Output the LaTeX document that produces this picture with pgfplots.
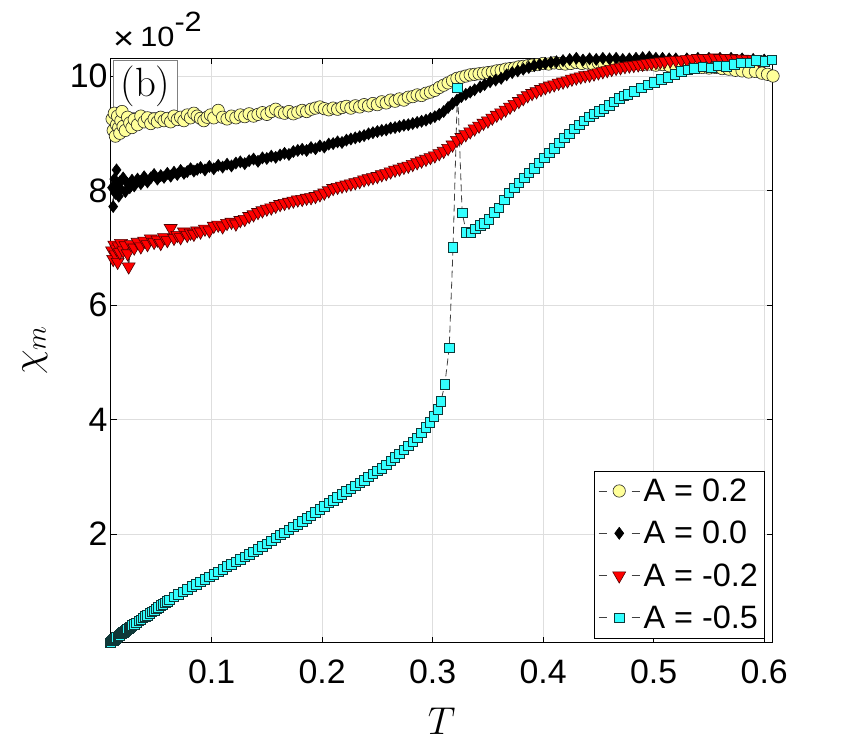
\RequirePackage{fix-cm}
\documentclass[border=0pt]{standalone}
\usepackage{fontspec}
\usepackage{graphicx}
\usepackage{pgfplots}
\pgfplotsset{compat=1.18}
\newfontfamily\hv{Liberation Sans}
\definecolor{cyanf}{rgb}{0.2,1,1}
\definecolor{yelf}{rgb}{1,1,0.6}
\definecolor{cyane}{rgb}{0.06,0.22,0.22}
\definecolor{gridc}{rgb}{0.87,0.87,0.87}
\pgfplotstableread{
x y
0.010 9.25
0.011 9.05
0.012 9.35
0.013 8.95
0.014 9.15
0.015 9.30
0.016 9.10
0.017 9.00
0.018 9.22
0.019 9.38
0.020 9.12
0.022 9.05
0.024 9.28
0.026 9.18
0.028 9.10
0.030 9.24
0.033 9.15
0.036 9.30
0.039 9.20
0.042 9.27
0.045 9.17
0.048 9.25
0.051 9.20
0.054 9.28
0.057 9.22
0.060 9.26
0.063 9.20
0.066 9.30
0.069 9.24
0.072 9.28
0.075 9.22
0.078 9.32
0.081 9.27
0.084 9.35
0.087 9.30
0.090 9.26
0.093 9.22
0.096 9.28
0.099 9.32
0.102 9.27
0.106 9.40
0.110 9.28
0.114 9.25
0.118 9.30
0.122 9.27
0.126 9.32
0.130 9.29
0.134 9.34
0.138 9.30
0.142 9.33
0.146 9.36
0.150 9.33
0.154 9.38
0.158 9.42
0.162 9.37
0.166 9.35
0.170 9.38
0.174 9.34
0.178 9.37
0.182 9.40
0.186 9.38
0.190 9.42
0.194 9.44
0.198 9.46
0.202 9.43
0.206 9.41
0.210 9.44
0.214 9.42
0.218 9.45
0.222 9.47
0.226 9.44
0.230 9.48
0.234 9.46
0.238 9.50
0.242 9.48
0.246 9.52
0.250 9.50
0.254 9.55
0.258 9.53
0.262 9.58
0.266 9.56
0.270 9.60
0.274 9.58
0.278 9.63
0.282 9.64
0.286 9.67
0.290 9.66
0.294 9.70
0.298 9.72
0.302 9.75
0.306 9.80
0.310 9.84
0.314 9.88
0.318 9.92
0.322 9.96
0.326 9.98
0.330 10.00
0.334 10.02
0.338 10.03
0.342 10.04
0.346 10.05
0.350 10.06
0.354 10.07
0.358 10.09
0.362 10.10
0.366 10.12
0.370 10.13
0.374 10.14
0.378 10.16
0.382 10.17
0.386 10.18
0.390 10.19
0.395 10.20
0.400 10.22
0.405 10.21
0.410 10.23
0.415 10.22
0.420 10.21
0.425 10.22
0.430 10.24
0.435 10.22
0.440 10.23
0.445 10.21
0.450 10.23
0.455 10.22
0.460 10.24
0.466 10.22
0.472 10.23
0.478 10.21
0.484 10.22
0.490 10.20
0.496 10.21
0.502 10.19
0.508 10.20
0.514 10.18
0.520 10.17
0.526 10.18
0.532 10.16
0.538 10.17
0.544 10.15
0.550 10.14
0.556 10.15
0.562 10.13
0.568 10.12
0.574 10.10
0.580 10.09
0.586 10.07
0.592 10.08
0.598 10.05
0.603 10.03
0.608 10.00
}\dataY
\pgfplotstableread{
x y
0.010 8.05
0.011 7.72
0.012 8.20
0.013 7.95
0.014 8.36
0.015 8.10
0.016 7.90
0.017 8.15
0.018 8.02
0.020 8.22
0.022 7.98
0.024 8.12
0.026 8.05
0.028 8.18
0.030 8.08
0.033 8.20
0.036 8.12
0.039 8.24
0.042 8.15
0.045 8.22
0.048 8.28
0.051 8.20
0.054 8.26
0.057 8.23
0.060 8.30
0.063 8.25
0.066 8.32
0.069 8.28
0.072 8.35
0.075 8.30
0.078 8.33
0.081 8.38
0.084 8.34
0.087 8.37
0.090 8.40
0.094 8.36
0.098 8.42
0.102 8.38
0.106 8.44
0.110 8.41
0.114 8.46
0.118 8.43
0.122 8.48
0.126 8.50
0.130 8.47
0.134 8.52
0.138 8.55
0.142 8.51
0.146 8.57
0.150 8.56
0.154 8.60
0.158 8.58
0.162 8.62
0.166 8.65
0.170 8.63
0.174 8.68
0.178 8.70
0.182 8.72
0.186 8.70
0.190 8.75
0.194 8.73
0.198 8.78
0.202 8.76
0.206 8.81
0.210 8.82
0.214 8.85
0.218 8.84
0.222 8.88
0.226 8.90
0.230 8.92
0.234 8.94
0.238 8.96
0.242 8.99
0.246 9.01
0.250 9.03
0.254 9.05
0.258 9.06
0.262 9.09
0.266 9.10
0.270 9.12
0.274 9.14
0.278 9.15
0.282 9.17
0.286 9.19
0.290 9.21
0.294 9.23
0.298 9.26
0.302 9.29
0.306 9.33
0.310 9.38
0.314 9.45
0.318 9.52
0.322 9.58
0.326 9.64
0.330 9.68
0.334 9.72
0.338 9.76
0.343 9.81
0.347 9.85
0.352 9.90
0.357 9.93
0.362 9.96
0.367 10.02
0.372 10.06
0.377 10.09
0.382 10.12
0.387 10.15
0.392 10.18
0.397 10.20
0.402 10.22
0.407 10.24
0.412 10.25
0.418 10.27
0.424 10.29
0.430 10.31
0.436 10.28
0.442 10.30
0.448 10.29
0.454 10.31
0.460 10.30
0.466 10.31
0.472 10.29
0.478 10.30
0.484 10.31
0.490 10.32
0.496 10.33
0.502 10.31
0.508 10.31
0.514 10.30
0.520 10.30
0.530 10.30
0.540 10.31
0.550 10.31
0.560 10.31
0.570 10.31
0.580 10.30
0.590 10.29
0.600 10.28
}\dataK
\pgfplotstableread{
x y
0.010 6.95
0.011 6.80
0.012 7.05
0.013 6.88
0.014 6.98
0.015 6.75
0.016 7.02
0.017 6.92
0.018 7.08
0.020 6.95
0.022 7.04
0.024 6.90
0.025 6.67
0.027 7.06
0.030 7.00
0.033 7.10
0.036 7.02
0.039 7.12
0.042 7.06
0.045 7.16
0.048 7.10
0.051 7.14
0.054 7.08
0.057 7.18
0.060 7.13
0.063 7.34
0.066 7.17
0.069 7.22
0.072 7.18
0.075 7.28
0.078 7.22
0.081 7.26
0.084 7.24
0.087 7.30
0.090 7.28
0.094 7.33
0.098 7.30
0.102 7.38
0.106 7.40
0.110 7.37
0.114 7.43
0.118 7.45
0.122 7.42
0.126 7.48
0.130 7.50
0.134 7.55
0.138 7.58
0.142 7.62
0.146 7.65
0.150 7.68
0.154 7.70
0.158 7.73
0.162 7.76
0.166 7.78
0.170 7.80
0.174 7.82
0.178 7.84
0.182 7.85
0.186 7.87
0.190 7.88
0.194 7.90
0.198 7.93
0.202 7.96
0.206 8.00
0.210 8.04
0.214 8.06
0.218 8.08
0.222 8.10
0.226 8.12
0.230 8.14
0.234 8.16
0.238 8.19
0.242 8.21
0.246 8.23
0.250 8.25
0.254 8.28
0.258 8.30
0.262 8.33
0.266 8.36
0.270 8.38
0.274 8.41
0.278 8.43
0.282 8.46
0.286 8.49
0.290 8.52
0.294 8.55
0.298 8.58
0.302 8.61
0.306 8.65
0.310 8.69
0.314 8.74
0.318 8.80
0.322 8.88
0.326 8.93
0.330 8.98
0.334 9.03
0.338 9.08
0.342 9.13
0.346 9.18
0.350 9.22
0.354 9.27
0.358 9.32
0.362 9.36
0.366 9.41
0.370 9.46
0.374 9.51
0.378 9.56
0.382 9.61
0.386 9.66
0.390 9.70
0.394 9.73
0.398 9.77
0.402 9.80
0.406 9.83
0.410 9.85
0.414 9.88
0.418 9.90
0.422 9.92
0.426 9.95
0.430 9.97
0.434 9.99
0.438 10.01
0.442 10.02
0.446 10.04
0.450 10.06
0.454 10.08
0.458 10.10
0.462 10.12
0.466 10.14
0.470 10.15
0.474 10.17
0.478 10.18
0.482 10.19
0.486 10.20
0.490 10.21
0.494 10.22
0.498 10.23
0.502 10.24
0.506 10.25
0.510 10.26
0.515 10.27
0.520 10.28
0.525 10.28
0.530 10.29
0.535 10.30
0.540 10.31
0.545 10.31
0.550 10.31
0.555 10.32
0.560 10.31
0.565 10.31
0.570 10.31
0.575 10.30
0.580 10.30
0.585 10.29
0.590 10.29
0.595 10.28
0.600 10.28
}\dataR
\pgfplotstableread{
x y
0.008 0.10
0.009 0.11
0.010 0.13
0.011 0.14
0.012 0.16
0.013 0.17
0.014 0.19
0.015 0.20
0.016 0.22
0.017 0.23
0.018 0.25
0.019 0.26
0.020 0.28
0.021 0.29
0.022 0.31
0.023 0.32
0.024 0.34
0.025 0.35
0.026 0.37
0.027 0.38
0.028 0.40
0.030 0.42
0.032 0.45
0.034 0.48
0.036 0.50
0.038 0.53
0.040 0.56
0.042 0.58
0.044 0.61
0.046 0.64
0.048 0.66
0.050 0.69
0.052 0.72
0.054 0.75
0.056 0.77
0.058 0.80
0.060 0.82
0.062 0.85
0.066 0.90
0.070 0.94
0.074 0.99
0.078 1.03
0.082 1.08
0.086 1.12
0.090 1.16
0.094 1.21
0.098 1.25
0.102 1.29
0.106 1.34
0.110 1.38
0.114 1.43
0.118 1.47
0.122 1.51
0.126 1.56
0.130 1.60
0.134 1.64
0.138 1.69
0.142 1.73
0.146 1.78
0.150 1.83
0.154 1.88
0.158 1.93
0.162 1.98
0.166 2.02
0.170 2.07
0.174 2.12
0.178 2.17
0.182 2.22
0.186 2.27
0.190 2.32
0.194 2.38
0.198 2.43
0.202 2.48
0.206 2.54
0.210 2.59
0.214 2.64
0.218 2.69
0.222 2.74
0.226 2.79
0.230 2.84
0.234 2.89
0.238 2.94
0.242 3.00
0.246 3.05
0.250 3.10
0.254 3.15
0.258 3.21
0.262 3.28
0.266 3.34
0.270 3.40
0.274 3.47
0.278 3.54
0.282 3.61
0.286 3.68
0.290 3.77
0.294 3.86
0.2975 3.95
0.301 4.05
0.3045 4.18
0.3075 4.32
0.311 4.61
0.315 5.25
0.3185 7.01
0.3225 9.79
0.3267 7.61
0.3305 7.27
0.3345 7.26
0.3385 7.33
0.343 7.39
0.347 7.43
0.351 7.50
0.3557 7.62
0.360 7.70
0.3647 7.84
0.369 7.96
0.374 8.05
0.378 8.13
0.383 8.22
0.387 8.31
0.392 8.39
0.396 8.48
0.401 8.57
0.4055 8.66
0.410 8.74
0.4146 8.83
0.419 8.92
0.4237 8.99
0.428 9.08
0.4327 9.15
0.437 9.22
0.442 9.29
0.446 9.34
0.451 9.38
0.455 9.43
0.460 9.49
0.464 9.55
0.469 9.61
0.4728 9.65
0.4766 9.68
0.4826 9.73
0.4887 9.79
0.4947 9.85
0.5007 9.89
0.5068 9.94
0.5129 9.98
0.519 10.03
0.525 10.08
0.531 10.11
0.537 10.13
0.5446 10.16
0.552 10.14
0.558 10.18
0.5657 10.17
0.573 10.20
0.579 10.23
0.587 10.23
0.593 10.27
0.6005 10.26
0.607 10.28
}\dataC
\begin{document}
\begin{tikzpicture}
\useasboundingbox (-111bp,-107.5bp) rectangle (743bp,642.5bp);
\begin{axis}[
  scale only axis, width=661.5bp, height=584.2bp,
  at={(0bp,0bp)}, anchor=south west,
  xmin=0.009, xmax=0.6075, ymin=0.103, ymax=10.31,
  clip=false,
  xtick={0.1,0.2,0.3,0.4,0.5,0.6},
  xticklabels={0.1,0.2,0.3,0.4,0.5,0.6},
  ytick={2,4,6,8,10},
  yticklabels={2,4,6,8,10},
  ticklabel style={font=\hv\fontsize{34}{40}\selectfont},
  xticklabel style={yshift=-13.5bp},
  tick align=inside,
  major tick length=6bp,
  tick style={line width=0.8bp, black},
  axis line style={line width=1bp, black},
  grid=major,
  major grid style={line width=0.8bp, gridc},
  xlabel={$T$},
  ylabel={$\chi_m$},
  xlabel style={at={(axis description cs:0.5,-0.1356)}, anchor=center, font=\fontsize{39}{47}\selectfont},
  ylabel style={at={(axis description cs:-0.1149,0.5)}, anchor=center, font=\fontsize{40}{48}\selectfont},
  legend cell align=left,
  legend style={at={(rel axis cs:1,0)}, anchor=south east, xshift=-8.2bp, yshift=4.2bp,
    draw=black, line width=0.8bp, fill=white,
    font=\hv\fontsize{32.5}{39}\selectfont,
    inner xsep=4bp, inner ysep=6bp, row sep=14.2bp, column sep=1.5bp},
  legend image code/.code={
    \draw[mark repeat=2, mark phase=2, #1, dash pattern=on 8bp off 25bp]
      plot coordinates {(0bp,0bp) (20.5bp,0bp) (41bp,0bp)};
  },
]
\addplot[draw=black!75, line width=0.8bp, dash pattern=on 7bp off 4bp,
  mark=*, mark size=6.2bp, mark options={solid, fill=yelf, draw=black!85, line width=0.6bp}]
  table[x=x,y=y]{\dataY};
\addlegendentry{A = 0.2}
\addplot[draw=black!75, line width=0.8bp, dash pattern=on 7bp off 4bp,
  mark=diamond*, mark size=6bp, mark options={solid, fill=black, draw=black, line width=0.6bp}]
  table[x=x,y=y]{\dataK};
\addlegendentry{A = 0.0}
\addplot[draw=black!75, line width=0.8bp, dash pattern=on 7bp off 4bp,
  mark=triangle*, mark size=7.5bp, mark options={solid, rotate=180, fill=red, draw=black!70!red, line width=0.6bp}]
  table[x=x,y=y]{\dataR};
\addlegendentry{A = -0.2}
\addplot[draw=black!75, line width=0.8bp, dash pattern=on 7bp off 4bp,
  mark=square*, mark size=4.75bp, mark options={solid, fill=cyanf, draw=cyane, line width=0.7bp}]
  table[x=x,y=y]{\dataC};
\addlegendentry{A = -0.5}
\node[anchor=north west, xshift=2.3bp, yshift=-1.7bp, draw=black!50, fill=white, line width=1bp,
  minimum width=63.4bp, minimum height=51.7bp, inner sep=0pt,
  font=\fontsize{41}{49}\selectfont] at (rel axis cs:0,1) {(b)};
\node[anchor=base west, inner sep=0pt, xshift=2bp, yshift=11.6bp,
  font=\hv\fontsize{28}{33}\selectfont] at (rel axis cs:0,1)
  {\raisebox{-2.5bp}{\scalebox{1.3}[1.15]{×}}\hspace{6bp}\scalebox{1.1}[1]{10\raisebox{15bp}{-2}}};
\end{axis}
\end{tikzpicture}
\end{document}
